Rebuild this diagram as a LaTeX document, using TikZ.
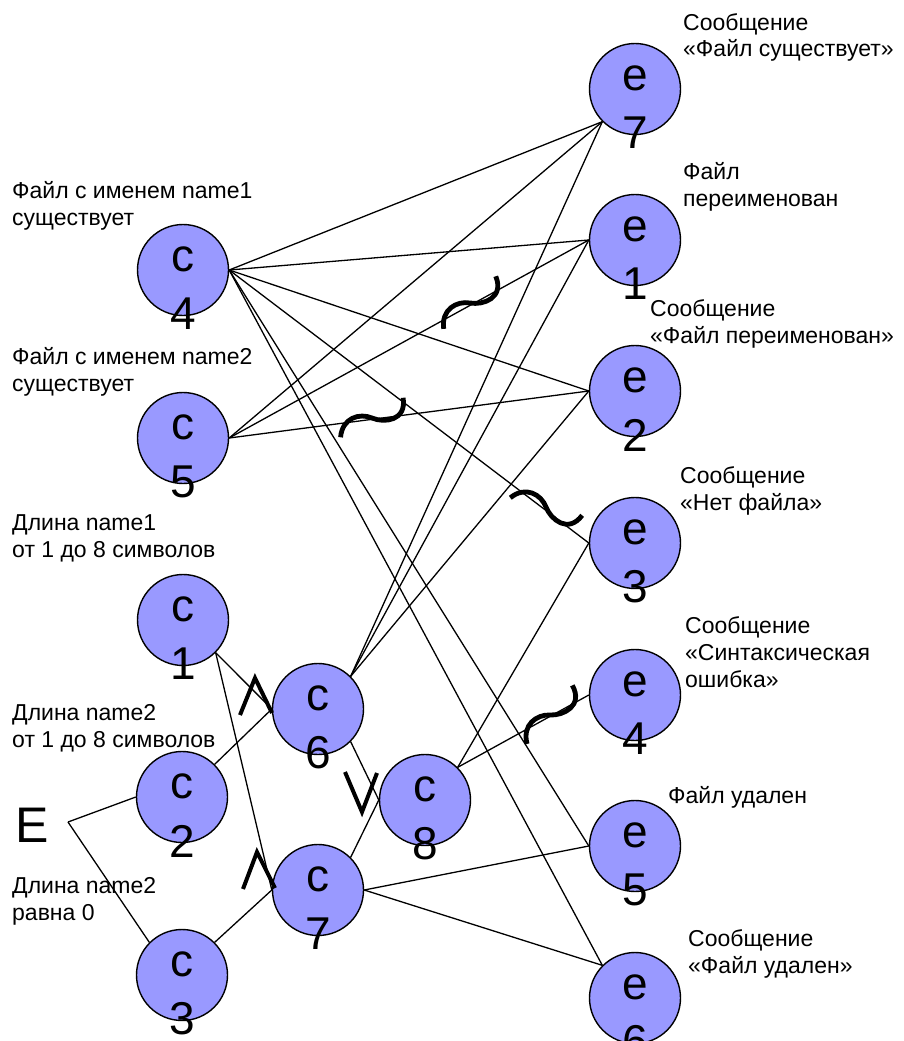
\documentclass[tikz,border=0pt]{standalone}
\usepackage{fontspec}
\setmainfont{Liberation Sans}
\definecolor{vfill}{HTML}{9999FF}
\begin{document}
\begin{tikzpicture}[x=1pt,y=-1pt,
  vert/.style={circle, draw=black, line width=1.4pt, fill=vfill, minimum size=91pt, inner sep=0pt},
  glyph/.style={font=\fontsize{46}{55}\selectfont, inner sep=0pt, anchor=base},
  edge/.style={line width=1.3pt, black},
  % multi-line captions are placed by the baseline of their last line
  desc/.style={font=\fontsize{23}{27}\selectfont, align=left, anchor=base west, inner sep=0pt},
  negmark/.style={line width=4.8pt},
  opmark/.style={line width=4pt, miter limit=10},
]
\useasboundingbox (0,0) rectangle (903,1041);

% vertex: name, x, y, letter, index
\newcommand\vertex[5]{%
  \node[vert,
        label={[glyph,yshift=11pt]center:#4},
        label={[glyph,yshift=-44pt]center:#5}] (#1) at (#2,#3) {};}

% causes
\vertex{c4}{183}{270}{c}{4}
\vertex{c5}{183}{438}{c}{5}
\vertex{c1}{183}{620}{c}{1}
\vertex{c2}{182}{797}{c}{2}
\vertex{c3}{182}{975}{c}{3}
% intermediate
\vertex{c6}{318}{709}{c}{6}
\vertex{c7}{318}{890}{c}{7}
\vertex{c8}{425}{800}{c}{8}
% effects
\vertex{e7}{635}{89}{e}{7}
\vertex{e1}{635}{240}{e}{1}
\vertex{e2}{635}{391}{e}{2}
\vertex{e3}{635}{543}{e}{3}
\vertex{e4}{635}{695}{e}{4}
\vertex{e5}{635}{846}{e}{5}
\vertex{e6}{635}{998}{e}{6}

% descriptions of causes
\node[desc] (t4) at (12,225) {Файл с именем name1\\существует};
\node[desc] (t5) at (12,391) {Файл с именем name2\\существует};
\node[desc] (t1) at (12,557) {Длина name1\\от 1 до 8 символов};
\node[desc] (t2) at (12,747) {Длина name2\\от 1 до 8 символов};
\node[desc] (t3) at (12,920) {Длина name2\\равна 0};

% descriptions of effects
\node[desc] (s7) at (683,57) {Сообщение\\«Файл существует»};
\node[desc] (s1) at (683,206) {Файл\\переименован};
\node[desc] (s2) at (650,343) {Сообщение\\«Файл переименован»};
\node[desc] (s3) at (680,510) {Сообщение\\«Нет файла»};
\node[desc] (s4) at (685,687) {Сообщение\\«Синтаксическая\\ошибка»};
\node[desc] (s5) at (668,803) {Файл удален};
\node[desc] (s6) at (688,973) {Сообщение\\«Файл удален»};

% empty-input cause
\node[font=\fontsize{50}{60}\selectfont, inner sep=0pt, anchor=base west] (E) at (15,842) {E};
\coordinate (Ej) at (68,822);

% connectors
\draw[edge] (Ej) -- (c2.west);
\draw[edge] (Ej) -- (c3.north west);

\draw[edge] (c4.east) -- (e7.south west);
\draw[edge] (c4.east) -- (e1.west);
\draw[edge] (c4.east) -- (e2.west);
\draw[edge] (c4.east) -- (e3.west);
\draw[edge] (c4.east) -- (e5.west);
\draw[edge] (c4.east) -- (e6.north west);

\draw[edge] (c5.east) -- (e7.south west);
\draw[edge] (c5.east) -- (e1.west);
\draw[edge] (c5.east) -- (e2.west);

\draw[edge] (c1.south east) -- (c6.west);
\draw[edge] (c1.south east) -- (c7.west);
\draw[edge] (c2.north east) -- (c6.west);
\draw[edge] (c3.north east) -- (c7.west);

\draw[edge] (c6.north east) -- (e7.south west);
\draw[edge] (c6.north east) -- (e1.west);
\draw[edge] (c6.north east) -- (e2.west);
\draw[edge] (c6.south east) -- (c8.west);
\draw[edge] (c7.north east) -- (c8.west);

\draw[edge] (c8.north east) -- (e3.west);
\draw[edge] (c8.north east) -- (e4.west);

\draw[edge] (c7.east) -- (e5.west);
\draw[edge] (c7.east) -- (e6.north west);

% logical operators
\draw[opmark] (240,715) -- (255,678) -- (272,713);
\draw[opmark] (243,889) -- (257,852) -- (275,888);
\draw[opmark] (345,772) -- (362,812) -- (377,773);

% negation marks
\foreach \cx/\cy/\ang in {470/303/32, 372/418/19, 546/507/-27, 550/715/39}{
  \draw[negmark, shift={(\cx,\cy)}, rotate=\ang]
    (-36,8) .. controls (-28,-10) and (-10,-9) .. (0,0)
    .. controls (10,9) and (32,14) .. (36,-9);
}
\end{tikzpicture}
\end{document}
